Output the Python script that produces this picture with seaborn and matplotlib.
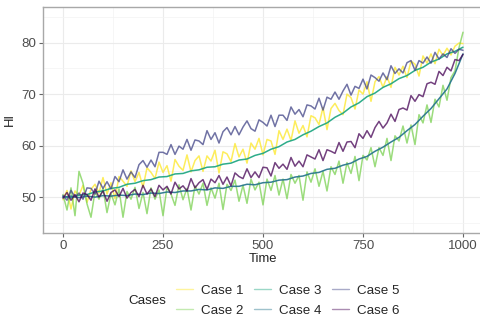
import numpy as np
import pandas as pd
import matplotlib
matplotlib.use("Agg")
import matplotlib.pyplot as plt
import seaborn as sns
from matplotlib.lines import Line2D

# ---------------- data ----------------
cases = ["Case 1", "Case 2", "Case 3", "Case 4", "Case 5", "Case 6"]
colors = ["#FDE725", "#7AD151", "#22A884", "#2A788E", "#414487", "#440154"]

time_fine = list(range(0, 1001, 10))    # noisy series
time_coarse = list(range(0, 1001, 20))  # smooth series

case1 = [49.5, 51.3, 47.7, 51.2, 50.3, 52.3, 49.0, 51.5, 52.5, 50.8,
         53.8, 50.6, 52.8, 49.7, 54.0, 53.1, 52.1, 55.1, 53.0, 54.8,
         51.9, 55.7, 54.8, 53.6, 56.8, 54.8, 56.1, 53.1, 57.3, 56.0,
         55.2, 58.2, 54.9, 57.1, 58.0, 55.0, 58.0, 57.0, 59.1, 54.7,
         58.8, 58.4, 56.9, 60.4, 57.8, 59.3, 56.6, 60.5, 59.3, 61.4,
         58.2, 61.2, 60.9, 58.3, 62.9, 61.2, 63.2, 61.0, 64.8, 62.4,
         63.9, 61.7, 65.8, 65.4, 64.1, 67.4, 63.1, 67.2, 68.2, 66.8,
         66.0, 70.0, 69.3, 67.1, 70.8, 70.0, 72.4, 68.6, 72.4, 73.4,
         71.3, 73.4, 71.3, 75.2, 73.7, 75.4, 73.2, 76.4, 75.8, 73.5,
         77.4, 76.0, 77.8, 75.9, 78.7, 77.5, 78.9, 77.6, 79.3, 79.9,
         79.8]

case2 = [50.5, 47.5, 51.8, 46.4, 55.0, 52.7, 48.7, 46.1, 51.1, 49.6,
         51.7, 47.0, 50.7, 48.5, 51.6, 46.1, 51.1, 49.6, 51.9, 47.8,
         50.9, 46.8, 51.8, 49.6, 51.4, 46.4, 51.9, 50.6, 48.4, 52.4,
         49.5, 51.7, 47.5, 52.2, 50.6, 52.7, 48.4, 51.8, 49.8, 52.7,
         47.6, 52.5, 51.3, 53.3, 49.2, 52.3, 48.8, 53.5, 51.4, 52.9,
         48.5, 53.5, 51.3, 54.2, 50.4, 53.5, 49.7, 54.4, 52.7, 54.2,
         49.4, 54.9, 52.9, 55.5, 52.1, 55.0, 51.2, 55.9, 54.4, 57.0,
         52.7, 56.7, 54.6, 57.9, 53.2, 58.1, 57.2, 59.6, 55.9, 59.6,
         58.1, 61.4, 57.1, 61.9, 60.9, 63.8, 60.5, 64.0, 60.2, 66.0,
         64.4, 67.9, 64.5, 69.0, 67.5, 71.7, 68.8, 73.2, 74.5, 79.0,
         82.0]

case3 = [50.1, 49.9, 50.4, 50.5, 51.0, 51.2, 51.7, 51.9, 52.5, 52.7,
         53.2, 53.4, 53.9, 54.0, 54.5, 54.6, 55.1, 55.3, 55.8, 55.9,
         56.4, 56.6, 57.2, 57.4, 58.1, 58.5, 59.3, 59.8, 60.7, 61.2,
         62.1, 62.8, 63.7, 64.4, 65.5, 66.3, 67.5, 68.3, 69.5, 70.2,
         71.3, 72.0, 73.0, 73.6, 74.6, 75.2, 76.2, 76.8, 77.8, 78.3,
         79.1]

case4 = [50.0, 50.2, 49.9, 50.2, 50.0, 50.3, 50.2, 50.4, 50.3, 50.6,
         50.5, 50.8, 50.7, 51.0, 50.9, 51.2, 51.2, 51.5, 51.4, 51.8,
         51.7, 52.1, 52.1, 52.5, 52.4, 52.8, 52.9, 53.3, 53.4, 53.9,
         54.1, 54.6, 54.8, 55.4, 55.6, 56.2, 56.6, 57.4, 57.9, 58.9,
         59.7, 60.7, 61.6, 62.9, 64.1, 65.7, 67.2, 69.1, 71.0, 74.0,
         77.8]

case5 = [50.3, 49.4, 51.3, 50.0, 50.8, 49.6, 51.8, 51.7, 50.6, 53.1,
         51.7, 53.0, 51.6, 54.0, 53.0, 55.3, 53.5, 54.9, 53.8, 56.3,
         57.1, 55.8, 57.2, 55.9, 58.7, 58.7, 58.3, 60.2, 58.3, 59.9,
         59.3, 61.2, 59.1, 61.1, 60.9, 60.2, 62.9, 61.2, 62.5, 60.5,
         62.7, 63.5, 62.1, 63.7, 62.1, 63.6, 64.8, 63.3, 62.8, 65.0,
         64.5, 63.8, 65.9, 63.7, 65.9, 65.9, 64.9, 67.5, 66.1, 67.0,
         65.6, 67.9, 67.7, 67.1, 69.2, 66.9, 69.4, 69.0, 70.4, 69.0,
         70.6, 71.9, 69.8, 71.5, 71.1, 72.9, 71.0, 73.7, 73.2, 72.5,
         74.1, 72.8, 75.5, 74.0, 74.9, 74.1, 76.1, 76.5, 74.6, 76.5,
         76.0, 77.2, 76.0, 78.1, 76.8, 77.8, 77.1, 78.8, 77.9, 78.7,
         78.5]

case6 = [49.8, 50.9, 49.4, 50.5, 49.1, 50.8, 50.5, 49.4, 51.6, 50.0,
         51.2, 49.2, 50.9, 51.4, 50.1, 51.7, 49.8, 50.9, 51.5, 50.1,
         52.3, 50.6, 51.6, 50.1, 52.3, 51.4, 52.1, 50.6, 52.9, 51.6,
         52.2, 51.2, 53.6, 51.8, 52.8, 53.4, 51.5, 53.5, 52.8, 54.2,
         52.5, 53.9, 52.2, 54.7, 54.0, 53.6, 55.5, 53.8, 54.9, 53.8,
         55.8, 55.7, 54.1, 56.7, 55.6, 56.4, 55.4, 57.7, 56.0, 57.0,
         55.9, 58.2, 57.8, 57.4, 59.2, 57.1, 59.2, 58.9, 58.5, 60.6,
         58.9, 60.7, 60.8, 59.6, 62.3, 61.4, 62.9, 61.6, 63.5, 64.7,
         63.4, 64.4, 66.1, 64.7, 67.0, 67.3, 66.9, 69.7, 68.6, 69.9,
         69.5, 72.0, 72.3, 71.9, 74.4, 73.6, 75.2, 74.5, 76.7, 76.5,
         77.7]

x_ticks = [0, 250, 500, 750, 1000]
y_ticks = [50, 60, 70, 80]

# ---------------- long table ----------------
series = [(case1, time_fine), (case2, time_fine), (case3, time_coarse),
          (case4, time_coarse), (case5, time_fine), (case6, time_fine)]
frames = []
for name, (vals, tt) in zip(cases, series):
    frames.append(pd.DataFrame({"Time": tt, "HI": vals, "Cases": name}))
df = pd.concat(frames, ignore_index=True)

# ---------------- figure ----------------
sns.set_theme(style="white")
plt.rcParams["font.family"] = ["Liberation Sans", "DejaVu Sans"]

W, H = 481, 321
fig = plt.figure(figsize=(W / 100, H / 100), dpi=100)
ax = fig.add_axes([43 / W, 1 - 232.7 / H, 440 / W, 225.7 / H])

palette = dict(zip(cases, colors))
for name in cases:
    sub = df[df["Cases"] == name]
    smooth = name in ("Case 3", "Case 4")
    sns.lineplot(data=sub, x="Time", y="HI", color=palette[name],
                 linewidth=1.1 if smooth else 1.1,
                 alpha=0.95 if smooth else 0.75,
                 estimator=None, legend=False, ax=ax, zorder=3)

ax.set_xlim(-50, 1050)
ax.set_ylim(43.1, 86.9)
ax.set_xticks(x_ticks)
ax.set_yticks(y_ticks)
ax.set_xticks([125, 375, 625, 875], minor=True)
ax.set_yticks([45, 55, 65, 75, 85], minor=True)
ax.grid(True, which="major", color="#EBEBEB", linewidth=0.8, zorder=0)
ax.grid(True, which="minor", color="#F3F3F3", linewidth=0.5, zorder=0)
ax.set_axisbelow(True)
for s in ax.spines.values():
    s.set_color("#A8A8A8")
    s.set_linewidth(1.0)
ax.tick_params(which="major", length=3, width=0.8, color="#666666",
               labelsize=9.6, labelcolor="#4D4D4D", pad=2, bottom=True, left=True)
ax.tick_params(which="minor", length=0)
ax.set_xlabel("Time", fontsize=9.4, color="#222222", labelpad=1)
ax.set_ylabel("HI", fontsize=9.4, color="#222222", labelpad=4)

# legend
handles = [Line2D([0], [0], color=c, lw=1.0, alpha=0.45) for c in colors]
fig.legend(handles, cases, ncol=3, loc="center left",
           bbox_to_anchor=(176 / W, 1 - 300.8 / H), frameon=False,
           fontsize=9.6, handlelength=1.3, handletextpad=0.6,
           columnspacing=0.75, labelspacing=0.55, borderaxespad=0,
           borderpad=0)
fig.text(147 / W, 1 - 300.8 / H, "Cases", ha="center", va="center",
         fontsize=9.6, color="#222222")

fig.savefig("out.png", dpi=100)
